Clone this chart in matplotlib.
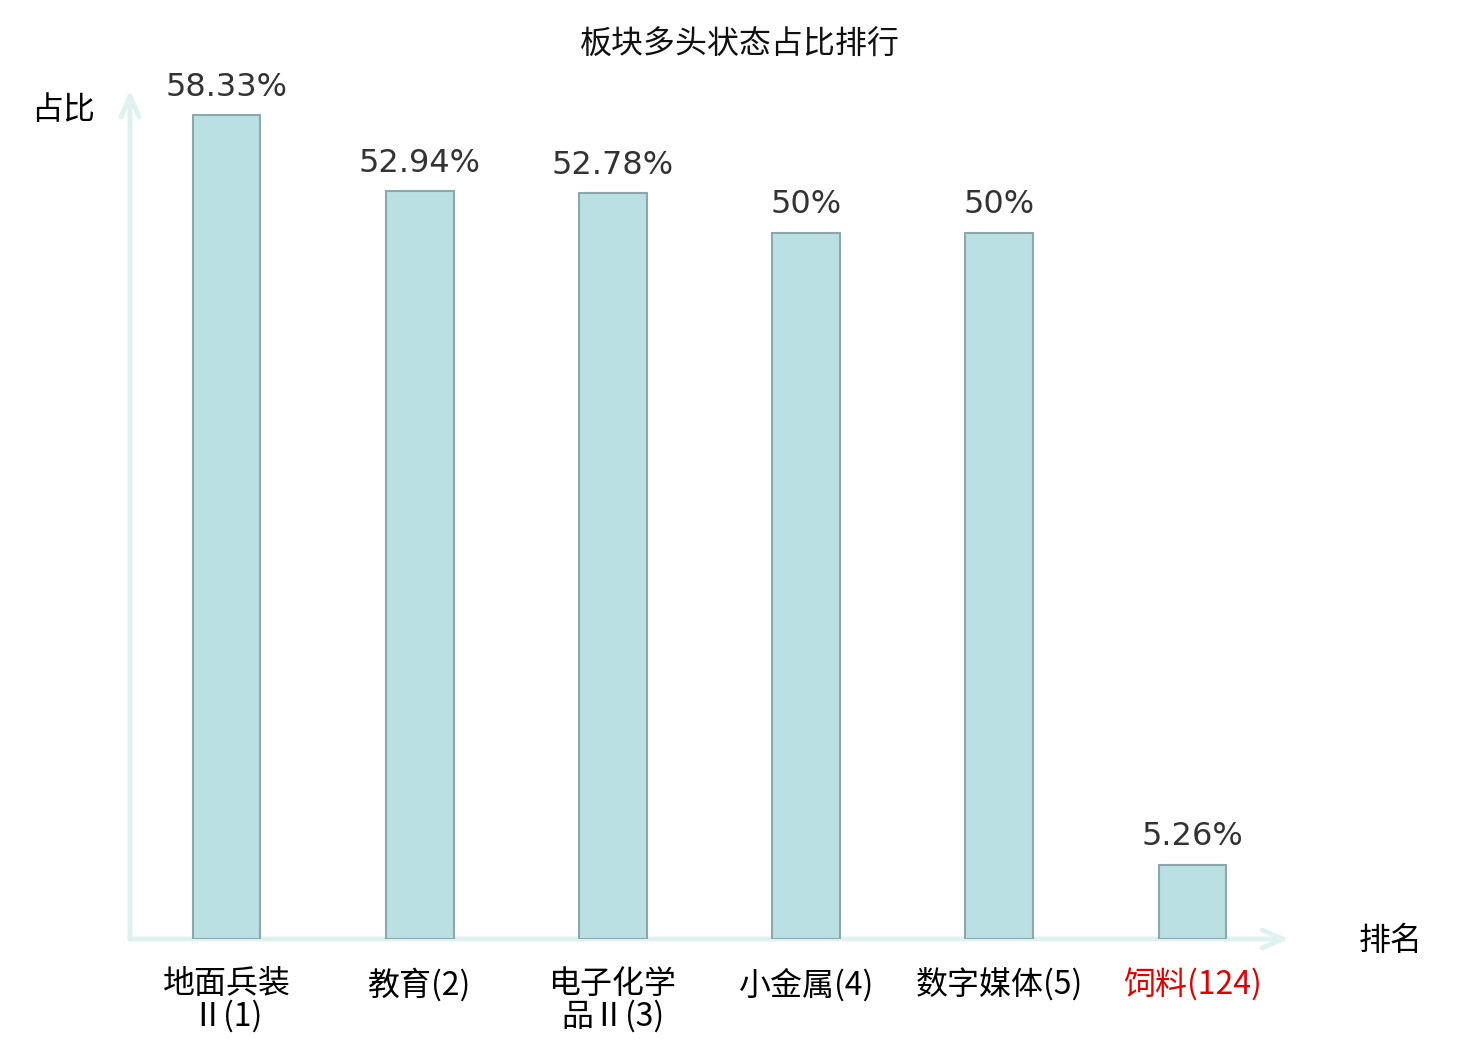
import matplotlib
matplotlib.use("Agg")
import matplotlib.pyplot as plt

plt.rcParams['font.family'] = ['Noto Sans CJK SC', 'DejaVu Sans']

categories = ["地面兵装\nⅡ(1)", "教育(2)", "电子化学\n品Ⅱ(3)", "小金属(4)", "数字媒体(5)", "饲料(124)"]
values = [58.33, 52.94, 52.78, 50, 50, 5.26]
value_labels = ["58.33%", "52.94%", "52.78%", "50%", "50%", "5.26%"]
label_colors = ["black", "black", "black", "black", "black", "#e00000"]
title = "板块多头状态占比排行"
ylabel = "占比"
xlabel = "排名"

W, H = 1480, 1040
fig = plt.figure(figsize=(W / 100, H / 100), dpi=100)
ax_left, ax_right = 130, 1289
ax_bottom, ax_top = 939, 90
ax = fig.add_axes([ax_left / W, 1 - ax_bottom / H, (ax_right - ax_left) / W, (ax_bottom - ax_top) / H])

x = list(range(len(categories)))
ax.bar(x, values, width=0.35, color="#bbe0e3", edgecolor="#8ca8aa", linewidth=1.5, zorder=3)
ax.set_xlim(-0.5, 5.5)
ax.set_ylim(0, 60.1)

for xi, v, lab in zip(x, values, value_labels):
    ax.annotate(lab, (xi, v), xytext=(0, 9), textcoords="offset points",
                ha="center", va="bottom", fontsize=23, color="#333333",
                family="DejaVu Sans")

for s in ax.spines.values():
    s.set_visible(False)
ax.set_yticks([])
ax.set_xticks(x)
ax.set_xticklabels(categories, fontsize=23, linespacing=1.0)
for t, c in zip(ax.get_xticklabels(), label_colors):
    t.set_color(c)
ax.tick_params(axis="x", length=0, pad=21)

axis_color = "#e0f2f0"
arrow = "->,head_length=1.5,head_width=0.65"
ax.annotate("", xy=(1.0, 0), xytext=(0, 0), xycoords="axes fraction",
            arrowprops=dict(arrowstyle=arrow, color=axis_color, lw=3.5,
                            shrinkA=0, shrinkB=0), zorder=2, annotation_clip=False)
ax.annotate("", xy=(0, 1.0), xytext=(0, 0), xycoords="axes fraction",
            arrowprops=dict(arrowstyle=arrow, color=axis_color, lw=3.5,
                            shrinkA=0, shrinkB=0), zorder=2, annotation_clip=False)

fig.text(740 / W, 1 - 45 / H, title, ha="center", va="center", fontsize=23, color="#111111")
fig.text(63 / W, 1 - 110 / H, ylabel, ha="center", va="center", fontsize=23, color="black")
fig.text(1391 / W, 1 - 941 / H, xlabel, ha="center", va="center", fontsize=23, color="black")

fig.savefig("out.png", dpi=100)
